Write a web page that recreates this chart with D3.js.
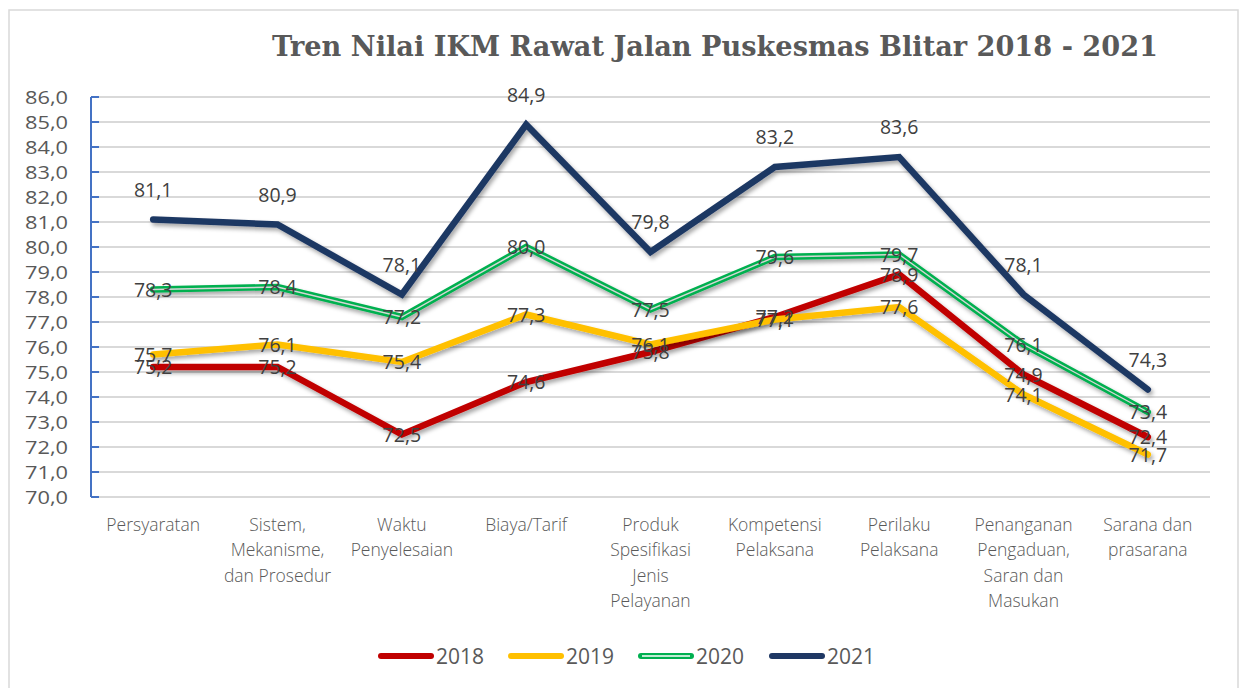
<!DOCTYPE html>
<html>
<head>
<meta charset="utf-8">
<script src="https://cdn.jsdelivr.net/npm/d3@7"></script>
<style>
  body { margin: 0; background: #fff; }
  svg { display: block; }
</style>
</head>
<body>
<svg id="svg" width="1245" height="688"></svg>
<script>
const categories = [
  ["Persyaratan"],
  ["Sistem,", "Mekanisme,", "dan Prosedur"],
  ["Waktu", "Penyelesaian"],
  ["Biaya/Tarif"],
  ["Produk", "Spesifikasi", "Jenis", "Pelayanan"],
  ["Kompetensi", "Pelaksana"],
  ["Perilaku", "Pelaksana"],
  ["Penanganan", "Pengaduan,", "Saran dan", "Masukan"],
  ["Sarana dan", "prasarana"]
];
const years = ["2018", "2019", "2020", "2021"];
const v2018 = [75.2, 75.2, 72.5, 74.6, 75.8, 77.2, 78.9, 74.9, 72.4];
const v2019 = [75.7, 76.1, 75.4, 77.3, 76.1, 77.1, 77.6, 74.1, 71.7];
const v2020 = [78.3, 78.4, 77.2, 80.0, 77.5, 79.6, 79.7, 76.1, 73.4];
const v2021 = [81.1, 80.9, 78.1, 84.9, 79.8, 83.2, 83.6, 78.1, 74.3];
const yTicks = d3.range(70, 87, 1);

const colors = ["#C00000", "#FFC000", "#00B050", "#1F3864"];
const series = [v2018, v2019, v2020, v2021].map((vals, i) => ({
  name: years[i], values: vals, color: colors[i]
}));

const plotL = 91, plotR = 1210, plotT = 97, plotB = 497;
const svg = d3.select("#svg");
const fmt = (v) => v.toFixed(1).replace(".", ",");

// chart border
svg.append("rect")
  .attr("x", 9).attr("y", 10).attr("width", 1229).attr("height", 690)
  .attr("fill", "none").attr("stroke", "#d9d9d9").attr("stroke-width", 1.5);

// shadow filter
const defs = svg.append("defs");
const f = defs.append("filter").attr("id", "shadow")
  .attr("x", "-10%").attr("y", "-10%").attr("width", "120%").attr("height", "130%");
f.append("feDropShadow").attr("dx", 2).attr("dy", 3).attr("stdDeviation", 2)
  .attr("flood-color", "#000").attr("flood-opacity", 0.35);

let xScale = d3.scalePoint(d3.range(categories.length), [plotL, plotR]).padding(0.5);
let yScale = d3.scaleLinear([70, 86], [plotB, plotT]);

// title
svg.append("text")
  .attr("x", 715).attr("y", 56)
  .attr("text-anchor", "middle")
  .attr("font-family", "'DejaVu Serif Condensed', 'DejaVu Serif', serif")
  .attr("font-weight", "bold")
  .attr("font-size", 27)
  .attr("fill", "#595959")
  .attr("textLength", 886)
  .attr("lengthAdjust", "spacingAndGlyphs")
  .text("Tren Nilai IKM Rawat Jalan Puskesmas Blitar 2018 - 2021");

// gridlines
svg.append("g").selectAll("line").data(yTicks).join("line")
  .attr("x1", plotL).attr("x2", plotR)
  .attr("y1", (d) => yScale(d)).attr("y2", (d) => yScale(d))
  .attr("stroke", "#d9d9d9").attr("stroke-width", 2);

// y axis
svg.append("line")
  .attr("x1", plotL).attr("x2", plotL).attr("y1", plotT).attr("y2", plotB)
  .attr("stroke", "#4472C4").attr("stroke-width", 2);
svg.append("g").selectAll("line").data(yTicks).join("line")
  .attr("x1", plotL).attr("x2", plotL + 8)
  .attr("y1", (d) => yScale(d)).attr("y2", (d) => yScale(d))
  .attr("stroke", "#4472C4").attr("stroke-width", 2);
svg.append("g").selectAll("text").data(yTicks).join("text")
  .attr("x", 68).attr("y", (d) => yScale(d))
  .attr("dy", "0.36em")
  .attr("text-anchor", "end")
  .attr("font-family", "'Open Sans', sans-serif")
  .attr("font-size", 19)
  .attr("textLength", 43)
  .attr("lengthAdjust", "spacingAndGlyphs")
  .attr("fill", "#595959")
  .text((d) => fmt(d));

// category labels
const catG = svg.append("g")
  .attr("font-family", "'Open Sans', sans-serif")
  .attr("font-size", 17.5)
  .attr("font-weight", 300)
  .attr("fill", "#595959")
  .attr("text-anchor", "middle");
categories.forEach((lines, i) => {
  const t = catG.append("text").attr("x", xScale(i)).attr("y", 531);
  lines.forEach((ln, j) => {
    t.append("tspan").attr("x", xScale(i)).attr("dy", j === 0 ? 0 : 25.3).text(ln);
  });
});

// lines
let lineFunc = d3.line()
  .x((d, i) => xScale(i))
  .y((d) => yScale(d));

series.forEach((s) => {
  svg.append("path")
    .datum(s.values)
    .attr("fill", "none")
    .attr("stroke", s.color)
    .attr("stroke-width", 6.5)
    .attr("stroke-linecap", "round")
    .attr("stroke-linejoin", "miter")
    .attr("filter", "url(#shadow)")
    .attr("d", lineFunc);
  if (s.name === "2020") {
    svg.append("path")
      .datum(s.values)
      .attr("fill", "none")
      .attr("stroke", "#d6d6d6")
      .attr("stroke-width", 1.4)
      .attr("stroke-linecap", "round")
      .attr("d", lineFunc);
  }
});

// data labels
series.forEach((s) => {
  svg.append("g").selectAll("text").data(s.values).join("text")
    .attr("x", (d, i) => xScale(i))
    .attr("y", (d) => yScale(d) + (s.name === "2021" ? -30 : 0))
    .attr("dy", "0.36em")
    .attr("text-anchor", "middle")
    .attr("font-family", "'Open Sans', sans-serif")
    .attr("font-size", 19.5)
    .attr("fill", "#404040")
    .text((d) => fmt(d));
});

// legend
const legendX = [378, 508, 638, 769];
series.forEach((s, i) => {
  const g = svg.append("g").attr("transform", `translate(${legendX[i]}, 656)`);
  g.append("line").attr("x1", 3).attr("x2", 53).attr("y1", 0).attr("y2", 0)
    .attr("stroke", s.color).attr("stroke-width", 6).attr("stroke-linecap", "round");
  if (s.name === "2020") {
    g.append("line").attr("x1", 4).attr("x2", 52).attr("y1", 0).attr("y2", 0)
      .attr("stroke", "#ffffff").attr("stroke-width", 1.6);
  }
  g.append("text").attr("x", 58).attr("y", 0).attr("dy", "0.36em")
    .attr("font-family", "'Open Sans', sans-serif")
    .attr("font-size", 21)
    .attr("fill", "#595959")
    .text(s.name);
});
</script>
</body>
</html>
